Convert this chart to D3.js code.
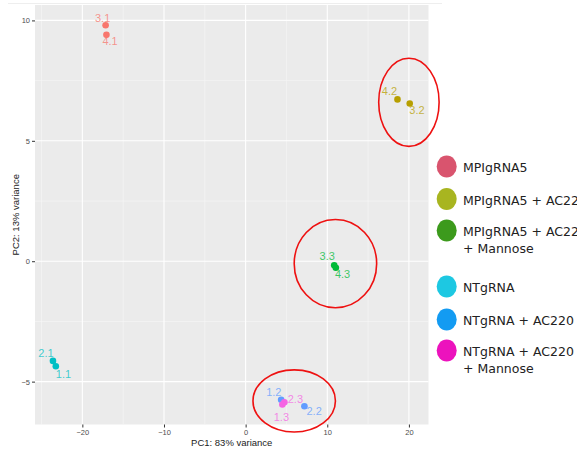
<!DOCTYPE html>
<html>
<head>
<meta charset="utf-8">
<script src="https://cdn.jsdelivr.net/npm/d3@7"></script>
<style>
  html, body { margin: 0; padding: 0; background: #fff; }
  svg { display: block; }
</style>
</head>
<body>
<svg id="chart" width="577" height="455"></svg>
<script>
// PCA sample scores (PC1, PC2), labels and group membership
const sampleLabels = ["3.1", "4.1", "2.1", "1.1", "1.2", "2.2", "2.3", "1.3", "4.2", "3.2", "3.3", "4.3"];
const pc1Values    = [-17.15, -17.05, -23.6, -23.25, 4.35, 7.2, 4.75, 4.5, 18.6, 20.1, 10.85, 11.05];
const pc2Values    = [9.8, 9.4, -4.14, -4.36, -5.75, -6.02, -5.86, -5.95, 6.72, 6.55, -0.17, -0.27];
const sampleGroup  = [0, 0, 3, 3, 4, 4, 5, 5, 1, 1, 2, 2];

// ggplot-style hue palette for the six groups
const groupColors = ["#F8766D", "#B79F00", "#00BA38", "#00BFC4", "#619CFF", "#F564E3"];

// Legend entries (drawn beside the panel), one array of lines per group
const legendLines  = [["MPIgRNA5"], ["MPIgRNA5 + AC220"], ["MPIgRNA5 + AC220", "+ Mannose"],
                      ["NTgRNA"], ["NTgRNA + AC220"], ["NTgRNA + AC220", "+ Mannose"]];
const legendColors = ["#D9546E", "#A8B520", "#3C9A1C", "#1DC8E2", "#139BF2", "#EC12BD"];

// Axis ticks
const xTicks = [-20, -10, 0, 10, 20];
const yTicks = [-5, 0, 5, 10];
const xMinor = [-25, -15, -5, 5, 15];
const yMinor = [-2.5, 2.5, 7.5];

// Highlighted clusters: centre (PC1, PC2) and radii in data units
const ringCx = [20.0, 11.0, 5.95];
const ringCy = [6.6, -0.1, -5.8];
const ringRx = [3.7, 5.05, 5.05];
const ringRy = [1.83, 1.83, 1.29];

const panel = { left: 35, right: 428.5, top: 5, bottom: 424.5 };
const svg = d3.select("#chart");

const x = d3.scaleLinear().domain([-25.8, 22.4]).range([panel.left, panel.right]);
const y = d3.scaleLinear().domain([-6.78, 10.64]).range([panel.bottom, panel.top]);

// faint frame line above panel
svg.append("line").attr("x1", 8).attr("x2", 442).attr("y1", 3.5).attr("y2", 3.5)
  .attr("stroke", "#eeeeee").attr("stroke-width", 1);

// panel background
svg.append("rect")
  .attr("x", panel.left).attr("y", panel.top)
  .attr("width", panel.right - panel.left).attr("height", panel.bottom - panel.top)
  .attr("fill", "#EBEBEB");

const grid = svg.append("g");
grid.selectAll(".vminor").data(xMinor).join("line")
  .attr("x1", d => x(d)).attr("x2", d => x(d))
  .attr("y1", panel.top).attr("y2", panel.bottom)
  .attr("stroke", "#F7F7F7").attr("stroke-width", 0.6);
grid.selectAll(".hminor").data(yMinor).join("line")
  .attr("y1", d => y(d)).attr("y2", d => y(d))
  .attr("x1", panel.left).attr("x2", panel.right)
  .attr("stroke", "#F7F7F7").attr("stroke-width", 0.6);
grid.selectAll(".vmajor").data(xTicks).join("line")
  .attr("x1", d => x(d)).attr("x2", d => x(d))
  .attr("y1", panel.top).attr("y2", panel.bottom)
  .attr("stroke", "#FFFFFF").attr("stroke-width", 1.1);
grid.selectAll(".hmajor").data(yTicks).join("line")
  .attr("y1", d => y(d)).attr("y2", d => y(d))
  .attr("x1", panel.left).attr("x2", panel.right)
  .attr("stroke", "#FFFFFF").attr("stroke-width", 1.1);

// axes
const xAxis = svg.append("g")
  .attr("transform", `translate(0,${panel.bottom})`)
  .call(d3.axisBottom(x).tickValues(xTicks).tickSize(3).tickPadding(2).tickFormat(d3.format("d")));
const yAxis = svg.append("g")
  .attr("transform", `translate(${panel.left},0)`)
  .call(d3.axisLeft(y).tickValues(yTicks).tickSize(3).tickPadding(2).tickFormat(d3.format("d")));
[xAxis, yAxis].forEach(a => {
  a.select(".domain").remove();
  a.selectAll(".tick line").attr("stroke", "#333333").attr("stroke-width", 1);
  a.selectAll(".tick text").attr("fill", "#4D4D4D")
    .style("font-family", "'Liberation Sans', Arial, sans-serif").style("font-size", "7.5px");
});

// axis titles
svg.append("text")
  .attr("x", (panel.left + panel.right) / 2).attr("y", 446)
  .attr("text-anchor", "middle")
  .style("font-family", "'Liberation Sans', Arial, sans-serif").style("font-size", "9.5px")
  .attr("fill", "#222").text("PC1: 83% variance");
svg.append("text")
  .attr("transform", `translate(19,${(panel.top + panel.bottom) / 2}) rotate(-90)`)
  .attr("text-anchor", "middle")
  .style("font-family", "'Liberation Sans', Arial, sans-serif").style("font-size", "9.5px")
  .attr("fill", "#222").text("PC2: 13% variance");

// sample points
const idx = d3.range(sampleLabels.length);
svg.append("g").selectAll("circle").data(idx).join("circle")
  .attr("cx", i => x(pc1Values[i])).attr("cy", i => y(pc2Values[i]))
  .attr("r", 3.3).attr("fill", i => groupColors[sampleGroup[i]]);

// sample labels, offset (in px) from each point, like repelled text labels
const labelOffset = {
  "3.1": [-3, -3], "4.1": [3.6, 10], "2.1": [-7, -4], "1.1": [7.7, 11.5],
  "1.2": [-7.3, -3.6], "2.2": [9.7, 9], "2.3": [11, 0.8], "1.3": [-1, 16],
  "4.2": [-8, -4.3], "3.2": [7.3, 10.7], "3.3": [-7, -5], "4.3": [6.7, 10.4]
};
svg.append("g").selectAll("text").data(idx).join("text")
  .attr("x", i => x(pc1Values[i]) + labelOffset[sampleLabels[i]][0])
  .attr("y", i => y(pc2Values[i]) + labelOffset[sampleLabels[i]][1])
  .attr("text-anchor", "middle")
  .style("font-family", "'Liberation Sans', Arial, sans-serif").style("font-size", "11px")
  .attr("fill", i => groupColors[sampleGroup[i]])
  .attr("fill-opacity", 0.75)
  .text(i => sampleLabels[i]);

// red rings around clusters
svg.append("g").selectAll("ellipse").data(d3.range(ringCx.length)).join("ellipse")
  .attr("cx", i => x(ringCx[i])).attr("cy", i => y(ringCy[i]))
  .attr("rx", i => x(ringRx[i]) - x(0)).attr("ry", i => y(0) - y(ringRy[i]))
  .attr("fill", "none").attr("stroke", "#EE1111").attr("stroke-width", 1.6);

// legend (runs past the right edge, as the long entries are clipped there)
const legendY = [166.5, 199, 230.5, 286.5, 319.5, 350.5];
const lg = svg.append("g");
legendLines.forEach((lines, i) => {
  lg.append("ellipse").attr("cx", 446.7).attr("cy", legendY[i])
    .attr("rx", 10).attr("ry", 11).attr("fill", legendColors[i]);
  lines.forEach((t, j) => {
    lg.append("text")
      .attr("x", 463).attr("y", legendY[i] + 5.5 + j * 16.5)
      .style("font-family", "'DejaVu Sans', Verdana, sans-serif").style("font-size", "12.5px")
      .attr("fill", "#222").text(t);
  });
});
</script>
</body>
</html>
